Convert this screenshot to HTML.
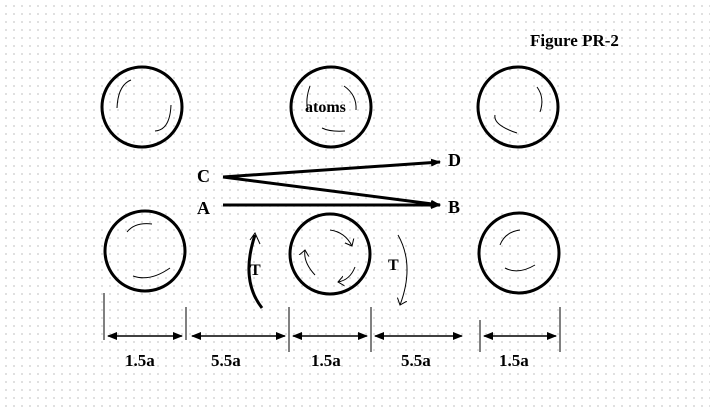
<!DOCTYPE html><html><head><style>
body{margin:0;width:710px;height:409px;overflow:hidden;background:#fff;background-image:radial-gradient(circle,#ccc 0.7px,transparent 1px);background-size:8px 8px;background-position:2px 2px}
svg{position:absolute;left:0;top:0}
text{font-family:"Liberation Serif",serif;font-weight:bold;fill:#000}
</style></head><body>
<svg width="710" height="409" viewBox="0 0 710 409">
<defs><marker id="ah" markerWidth="10" markerHeight="8" refX="9" refY="4" orient="auto-start-reverse" markerUnits="userSpaceOnUse"><path d="M0,0L10,4L0,8z" fill="#000"/></marker>
<marker id="oa" markerWidth="12" markerHeight="12" refX="6" refY="6" orient="auto" markerUnits="userSpaceOnUse"><path d="M0,1L6,6L0,11" fill="none" stroke="#000" stroke-width="1"/></marker></defs>
<text x="530" y="46" font-size="17">Figure PR-2</text>
<g fill="none" stroke="#000" stroke-width="3">
<circle cx="142" cy="107" r="40"/><circle cx="331" cy="107" r="40"/><circle cx="518" cy="107" r="40"/>
<circle cx="145" cy="251" r="40"/><circle cx="330" cy="254" r="40"/><circle cx="519" cy="253" r="40"/>
</g>
<g fill="none" stroke="#000" stroke-width="1">
<path d="M131,80Q118,85 117,108"/><path d="M171,105Q170,130 155,131"/>
<path d="M310,86Q305,100 308,110"/><path d="M344,86Q357,95 356,110"/><path d="M322,128Q330,132 345,131"/>
<path d="M537,87Q545,98 540,112"/><path d="M495,115Q493,125 517,133"/>
<path d="M152,224Q135,222 127,232"/><path d="M133,276Q150,282 170,268"/>
<path d="M500,245Q505,232 520,230"/><path d="M505,268Q518,275 535,265"/>
<path d="M330,230Q345,232 352,246" marker-end="url(#oa)"/><path d="M355,267Q350,280 338,282" marker-end="url(#oa)"/><path d="M315,275Q303,262 305,250" marker-end="url(#oa)"/>
<path d="M398,235Q415,265 400,305" marker-end="url(#oa)"/>
</g>
<path d="M262,308Q240,280 255,235" fill="none" stroke="#000" stroke-width="3"/>
<path d="M250,240L255,233L260,244" fill="none" stroke="#000" stroke-width="1"/>
<g stroke="#000" stroke-width="3" fill="none">
<line x1="223" y1="177" x2="440" y2="162" marker-end="url(#ah)"/>
<line x1="223" y1="177" x2="440" y2="205" marker-end="url(#ah)"/>
<line x1="223" y1="205" x2="440" y2="205" marker-end="url(#ah)"/>
</g>
<text x="197" y="182" font-size="18">C</text><text x="197" y="214" font-size="18">A</text>
<text x="448" y="166" font-size="18">D</text><text x="448" y="213" font-size="18">B</text>
<text x="250" y="275" font-size="16" font-weight="normal">T</text><text x="388" y="270" font-size="16" font-weight="normal">T</text>
<g stroke="#000" stroke-width="1">
<line x1="104" y1="293" x2="104" y2="340"/><line x1="186" y1="307" x2="186" y2="340"/>
<line x1="289" y1="307" x2="289" y2="352"/><line x1="371" y1="307" x2="371" y2="352"/>
<line x1="480" y1="320" x2="480" y2="352"/><line x1="560" y1="307" x2="560" y2="352"/>
<g stroke-width="1.5">
<line x1="108" y1="336" x2="182" y2="336" marker-start="url(#ah)" marker-end="url(#ah)"/>
<line x1="192" y1="336" x2="285" y2="336" marker-start="url(#ah)" marker-end="url(#ah)"/>
<line x1="293" y1="336" x2="367" y2="336" marker-start="url(#ah)" marker-end="url(#ah)"/>
<line x1="375" y1="336" x2="462" y2="336" marker-start="url(#ah)" marker-end="url(#ah)"/>
<line x1="484" y1="336" x2="556" y2="336" marker-start="url(#ah)" marker-end="url(#ah)"/>
</g></g>
<text x="125" y="366" font-size="17">1.5a</text><text x="211" y="366" font-size="17">5.5a</text>
<text x="311" y="366" font-size="17">1.5a</text><text x="401" y="366" font-size="17">5.5a</text>
<text x="499" y="366" font-size="17">1.5a</text>
<text x="305" y="112" font-size="16">atoms</text>
</svg>
</body></html>
